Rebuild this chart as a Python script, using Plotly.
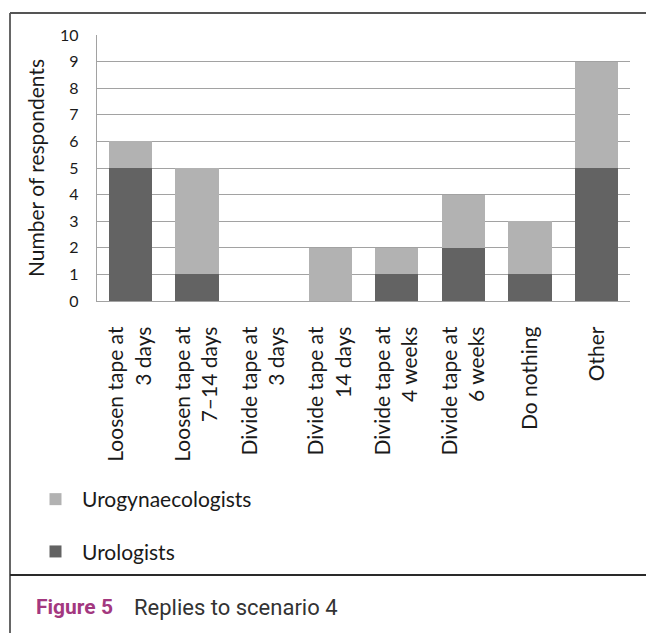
import plotly.graph_objects as go

# Survey replies: number of respondents per management option
categories = [
    "Loosen tape at<br>3 days",
    "Loosen tape at<br>7–14 days",
    "Divide tape at<br>3 days",
    "Divide tape at<br>14 days",
    "Divide tape at<br>4 weeks",
    "Divide tape at<br>6 weeks",
    "Do nothing",
    "Other",
]
urologists = [5, 1, 0, 0, 1, 2, 1, 5]
urogynaecologists = [1, 4, 0, 2, 1, 2, 2, 4]
y_ticks = list(range(0, 11))

W, H = 646, 633
L, R, T, B = 97, 16, 35, 332
PW, PH = W - L - R, H - T - B


def px(x):
    return (x - L) / PW


def py(y):
    return (H - B - y) / PH


FONT = "Lato, Carlito, 'Liberation Sans', sans-serif"
CAP_FONT = "Roboto, 'Liberation Sans', sans-serif"
GRID = "#a2a2a2"
INK = "#1a1a1a"

fig = go.Figure()
fig.add_trace(go.Bar(
    x=categories, y=urologists, name="Urologists",
    marker=dict(color="#636363", line=dict(width=0)),
    legendgroup="b", legendrank=2,
))
fig.add_trace(go.Bar(
    x=categories, y=urogynaecologists, name="Urogynaecologists",
    marker=dict(color="#b2b2b2", line=dict(width=0)),
    legendgroup="a", legendrank=1,
))

fig.update_layout(
    width=W, height=H,
    margin=dict(l=L, r=R, t=T, b=B, autoexpand=False),
    barmode="stack",
    bargap=0.35,
    paper_bgcolor="white",
    plot_bgcolor="white",
    font=dict(family=FONT, color=INK, size=21),
    legend=dict(
        x=px(29), y=py(479), xanchor="left", yanchor="top",
        orientation="v",
        traceorder="grouped",
        tracegroupgap=22,
        itemwidth=43,
        font=dict(family=FONT, size=21, color=INK),
        bgcolor="rgba(0,0,0,0)",
    ),
    xaxis=dict(
        tickangle=-90,
        tickfont=dict(family=FONT, size=21, color=INK),
        ticklabelstandoff=16,
        showgrid=False,
        showline=True, linecolor=GRID, linewidth=1.3,
        automargin=False,
    ),
    yaxis=dict(
        range=[0, 10],
        tickvals=y_ticks,
        tickfont=dict(family=FONT, size=16, color=INK),
        ticklabelstandoff=14,
        showgrid=True, gridcolor=GRID, gridwidth=1.3,
        showline=True, linecolor=GRID, linewidth=1.3,
        zeroline=False,
        title=dict(text="Number of respondents",
                   font=dict(family=FONT, size=21, color=INK),
                   standoff=9),
        automargin=False,
    ),
    shapes=[
        # figure frame
        dict(type="line", xref="paper", yref="paper",
             x0=px(10), x1=px(10), y0=py(13), y1=py(H),
             line=dict(color="#333333", width=1.5)),
        dict(type="line", xref="paper", yref="paper",
             x0=px(10), x1=px(W), y0=py(13), y1=py(13),
             line=dict(color="#555555", width=2)),
        dict(type="line", xref="paper", yref="paper",
             x0=px(10), x1=px(W), y0=py(575), y1=py(575),
             line=dict(color="#2a2a2a", width=2)),
    ],
    annotations=[
        dict(text="<b>Figure 5</b>", xref="paper", yref="paper",
             x=px(34), y=py(607), xanchor="left", yanchor="middle",
             showarrow=False,
             font=dict(family=CAP_FONT, size=21, color="#a3387f")),
        dict(text="Replies to scenario 4", xref="paper", yref="paper",
             x=px(132), y=py(607), xanchor="left", yanchor="middle",
             showarrow=False,
             font=dict(family=CAP_FONT, size=22, color="#333333")),
    ],
)

fig.write_html("out.html")
